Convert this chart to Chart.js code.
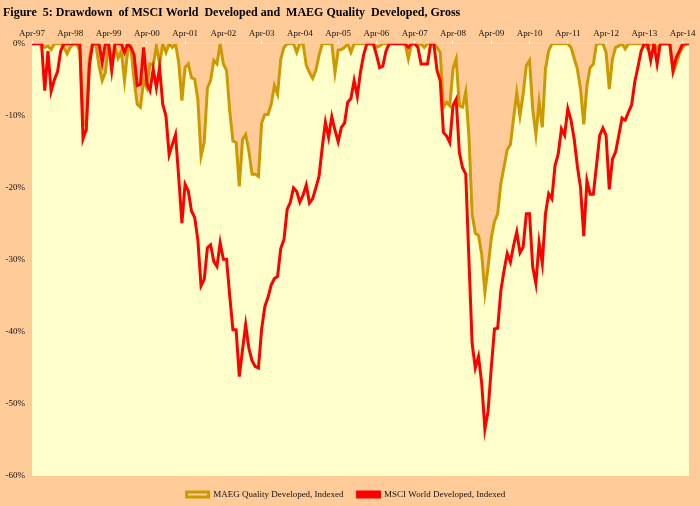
<!DOCTYPE html>
<html>
<head>
<meta charset="utf-8">
<script src="https://cdn.jsdelivr.net/npm/chart.js@4.4.1/dist/chart.umd.min.js"></script>
<style>
  html, body { margin: 0; padding: 0; background: #ffcc99; }
  #wrap { width: 700px; height: 506px; }
</style>
</head>
<body>
<div id="wrap"><canvas id="drawdown" width="700" height="506"></canvas></div>
<script>
// monthly series, Apr-97 .. Jun-14 (one row per year, starting in April)
const maegQuality = [
  0, 0, 0, 0, -0.5, -0.3, -0.8, 0, 0, 0, -0.5, -1.4,
  -0.5, 0, 0, -1, -10.5, -11.5, -2, 0, 0, -3, -5.1, -4,
  0, -2.5, -0.5, -2, -1, -5.1, -1, -0.5, -5, -8.4, -8.8, -5.1,
  -6.1, -2.8, -3, -0.3, -2.8, 0, -1.2, 0, -0.5, 0, -2.6, -7.9,
  -3.3, -2.8, -4.7, -4.9, -7.7, -15.6, -13.7, -6.1, -5.1, -2.3, -2.8, 0,
  -2.8, -3.7, -9.3, -13.5, -13.7, -19.8, -13.3, -12.6, -14.9, -18.1, -18.1, -18.4,
  -11, -9.8, -9.8, -8.4, -5.8, -7, -2.1, -0.5, 0, 0, 0, -1.2,
  0, 0, -3, -4, -4.8, -3.7, -1.6, 0, 0, 0, 0, -4,
  -0.9, -0.8, -0.5, 0, -1.2, 0, 0, 0, 0, 0, 0, 0,
  -0.5, -0.3, 0, 0, 0, 0, 0, 0, 0, 0, -2.1, 0,
  0, -0.2, 0, -0.5, 0, 0, 0, -0.5, -1.2, -8.8, -8.1, -8.6,
  -3.5, -2.1, -8.6, -8.8, -6.7, -12.8, -23.6, -26.3, -26.6, -29.2, -34.5, -31,
  -27, -24.7, -23.6, -19.4, -17.1, -14.7, -14, -10.3, -6.8, -10, -7, -3,
  -2.3, -9.1, -12.6, -8.1, -11.6, -3.5, -1, 0, 0, 0, 0, 0,
  0, -0.5, -2, -3.5, -6.3, -11.2, -5.8, -3.3, -2.8, 0, 0, 0,
  -1.2, -6.3, -2.1, -0.5, -0.3, 0, -0.7, 0, 0, 0, 0, 0,
  0, -0.7, 0, 0, -0.7, 0, 0, 0, 0, -4, -2.8, -1.4,
  -0.5, 0, 0,
];

const msciWorld = [
  0, 0, 0, 0, -6.5, -1, -6.6, -5, -3.9, -1, 0, 0,
  0, 0, 0, 0, -13.2, -11.9, -3, 0, 0, 0, -2.6, 0,
  0, -3.7, 0, 0, 0, -1.2, 0, -0.5, -1.5, -5.8, -5.6, -0.5,
  -5.5, -6.5, -3.5, -6.1, -3.3, -8.4, -10, -15.4, -14, -12.6, -18.5, -24.9,
  -19.5, -20.4, -23.2, -24.1, -27.2, -33.6, -32.7, -28.3, -27.9, -30.2, -30.9, -27.6,
  -29.9, -29.9, -35, -39.7, -39.7, -46.2, -42.5, -39, -42.3, -44, -44.8, -45,
  -39.6, -36.5, -35.2, -33.5, -32.6, -32.3, -28.4, -27.2, -23, -22, -20, -20.5,
  -22, -21, -19.6, -22.1, -21.5, -20, -18.4, -14.4, -10.9, -13, -10.1, -12,
  -13.6, -11.6, -11, -8.1, -7.6, -5.1, -7.3, -3.9, -1.5, 0, 0, 0,
  -1.5, -3.3, -3.1, -1, 0, 0, 0, 0, 0, 0, -0.5, 0,
  0, -0.5, -2.8, -2.8, -2.8, 0, 0, -3.7, -5.1, -12.3, -12.8, -13.7,
  -8.6, -7.7, -15.1, -17.2, -18.1, -30, -41.6, -45, -43.4, -47.1, -53.5, -51,
  -45, -39.6, -39.5, -34.3, -31.5, -29.1, -30.3, -28, -26.1, -29, -28.2, -23.6,
  -23.6, -31, -33.3, -27.6, -30.5, -23.6, -20.8, -21.5, -16.9, -15.3, -11.8, -12.7,
  -9, -10.6, -13.2, -17, -20, -26.7, -19, -20.9, -20.9, -16.9, -12.7, -11.7,
  -12.7, -20.2, -16, -15, -12.7, -10.3, -10.6, -9.5, -8.5, -5.3, -3.2, -1,
  0, 0, -2.3, 0, -2.8, 0, 0, 0, 0, -3.7, -1.9, -1,
  0, 0, 0,
];

const yTicks = [0, -10, -20, -30, -40, -50, -60];
const monthNames = ["Jan", "Feb", "Mar", "Apr", "May", "Jun", "Jul", "Aug", "Sep", "Oct", "Nov", "Dec"];

// category labels: one per month starting Apr-97
const months = msciWorld.map((_, i) => {
  const m = (3 + i) % 12;
  const yr = (97 + Math.floor((3 + i) / 12)) % 100;
  return monthNames[m] + "-" + String(yr).padStart(2, "0");
});

const serif = "'Liberation Serif', 'Times New Roman', serif";

const plotBg = {
  id: "plotBg",
  beforeDraw(chart) {
    const { ctx, chartArea: a } = chart;
    ctx.save();
    ctx.fillStyle = "#ffffcc";
    ctx.fillRect(a.left, a.top, a.right - a.left, a.bottom - a.top);
    ctx.restore();
  },
};

new Chart(document.getElementById("drawdown"), {
  type: "line",
  data: {
    labels: months,
    datasets: [
      {
        label: "MAEG Quality Developed, Indexed",
        data: maegQuality,
        borderColor: "#cc9900",
        backgroundColor: "#ffcc99",
        borderWidth: 3,
        fill: { value: 0 },
        pointRadius: 0,
        tension: 0,
        order: 2,
      },
      {
        label: "MSCI World Developed, Indexed",
        data: msciWorld,
        borderColor: "#ff0000",
        backgroundColor: "#ff0000",
        borderWidth: 3,
        fill: false,
        pointRadius: 0,
        tension: 0,
        order: 1,
      },
    ],
  },
  options: {
    responsive: false,
    animation: false,
    layout: { padding: { left: 3, right: 11, top: 0, bottom: -3 } },
    scales: {
      x: {
        position: "top",
        offset: false,
        border: { display: false },
        grid: {
          drawOnChartArea: false,
          tickLength: 3,
          color: (c) => (months[c.index] && months[c.index].startsWith("Apr") ? "#ffffff" : "rgba(0,0,0,0)"),
        },
        ticks: {
          autoSkip: false,
          maxRotation: 0,
          padding: 2,
          color: "#111",
          font: { family: serif, size: 9 },
          callback: (v, i) => (months[i].startsWith("Apr") ? months[i] : ""),
        },
        afterFit: (s) => { s.height = 21.4; },
      },
      y: {
        min: -60,
        max: 0,
        border: { display: false },
        grid: { display: false, drawTicks: false },
        afterBuildTicks: (s) => { s.ticks = yTicks.map((v) => ({ value: v })); },
        ticks: {
          padding: 7,
          color: "#111",
          font: { family: serif, size: 9 },
          callback: (v) => v + "%",
        },
        afterFit: (s) => { s.width = 29; },
      },
    },
    plugins: {
      title: {
        display: true,
        align: "start",
        text: "Figure  5: Drawdown  of MSCI World  Developed and  MAEG Quality  Developed, Gross",
        color: "#000",
        font: { family: serif, size: 12, weight: "bold" },
        padding: { top: 6, bottom: 2 },
      },
      legend: {
        position: "bottom",
        labels: {
          boxWidth: 22,
          boxHeight: 5,
          padding: 14,
          color: "#111",
          font: { family: serif, size: 9 },
          sort: (a, b) => a.datasetIndex - b.datasetIndex,
        },
      },
      tooltip: { enabled: false },
    },
  },
  plugins: [plotBg],
});
</script>
</body>
</html>
